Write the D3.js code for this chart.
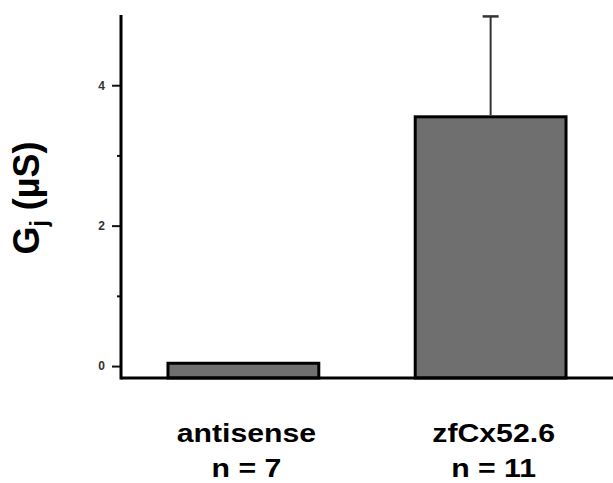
<!DOCTYPE html>
<html><head><meta charset="utf-8">
<script src="https://cdn.jsdelivr.net/npm/d3@7"></script>
<style>body{margin:0;background:#fff}svg{display:block}</style>
</head><body>
<script>
const categories = ["antisense", "zfCx52.6"];
const nLabels = ["n = 7", "n = 11"];
const means = [0.04, 3.55];
const errors = [null, 1.43];
const majorTicks = [0, 2, 4];
const minorTicks = [1, 3];
const yMin = -0.17, yMax = 5;

const W = 613, H = 483;
const svg = d3.select("body").append("svg").attr("width", W).attr("height", H);

const x = d3.scaleBand().domain(categories).range([121, 613]).paddingInner(0.39).paddingOuter(0.19);
const y = d3.scaleLinear().domain([yMin, yMax]).range([378, 15]);

// bars
svg.selectAll("rect.bar").data(categories).enter().append("rect")
  .attr("x", d => x(d)).attr("width", x.bandwidth())
  .attr("y", (d, i) => y(means[i])).attr("height", (d, i) => y(yMin) - y(means[i]))
  .attr("fill", "#6f6f6f").attr("stroke", "#000").attr("stroke-width", 3);

// error bars
categories.forEach((c, i) => {
  if (errors[i] == null) return;
  const cx = x(c) + x.bandwidth() / 2;
  svg.append("line").attr("x1", cx).attr("x2", cx)
    .attr("y1", y(means[i]) - 1.5).attr("y2", y(means[i] + errors[i]))
    .attr("stroke", "#333").attr("stroke-width", 2);
  svg.append("line").attr("x1", cx - 8).attr("x2", cx + 8)
    .attr("y1", y(means[i] + errors[i])).attr("y2", y(means[i] + errors[i]))
    .attr("stroke", "#333").attr("stroke-width", 2.5);
});

// y axis
const yAxis = d3.axisLeft(y).tickValues(majorTicks).tickSize(9).tickPadding(7).tickFormat(d3.format("d"));
const gy = svg.append("g").attr("transform", "translate(121,0)").call(yAxis);
gy.select(".domain").remove();
gy.selectAll(".tick line").attr("stroke", "#111").attr("stroke-width", 2);
gy.selectAll(".tick text").attr("font-family", "Liberation Sans, Arial, sans-serif")
  .attr("font-size", 12).attr("font-weight", "bold").attr("fill", "#333");
const gm = svg.append("g").attr("transform", "translate(121,0)")
  .call(d3.axisLeft(y).tickValues(minorTicks).tickSize(4).tickFormat(""));
gm.select(".domain").remove();
gm.selectAll(".tick line").attr("stroke", "#111").attr("stroke-width", 2);

// axis lines
svg.append("line").attr("x1", 121).attr("x2", 121).attr("y1", y(yMax)).attr("y2", y(yMin) + 1.5)
  .attr("stroke", "#000").attr("stroke-width", 3);
svg.append("line").attr("x1", 121).attr("x2", W).attr("y1", y(yMin)).attr("y2", y(yMin))
  .attr("stroke", "#000").attr("stroke-width", 3);

// y label
const yl = svg.append("text").attr("transform", "translate(39,198) rotate(-90)")
  .attr("text-anchor", "middle").attr("font-family", "Liberation Sans, Arial, sans-serif")
  .attr("font-weight", "bold").attr("font-size", 36).attr("fill", "#000");
yl.append("tspan").text("G");
yl.append("tspan").attr("font-size", 23).attr("dy", 8).text("j");
yl.append("tspan").attr("dy", -8).text(" (µS)");

// category labels
categories.forEach((c, i) => {
  const cx = x(c) + x.bandwidth() / 2 + 3;
  const g = svg.append("g").attr("transform", `translate(${cx},0) scale(1.21,1)`);
  g.append("text").attr("x", 0).attr("y", 442).attr("text-anchor", "middle")
    .attr("font-family", "Liberation Sans, Arial, sans-serif").attr("font-weight", "bold")
    .attr("font-size", 25).text(c);
  g.append("text").attr("x", 0).attr("y", 477).attr("text-anchor", "middle")
    .attr("font-family", "Liberation Sans, Arial, sans-serif").attr("font-weight", "bold")
    .attr("font-size", 25).text(nLabels[i]);
});
</script>
</body></html>
